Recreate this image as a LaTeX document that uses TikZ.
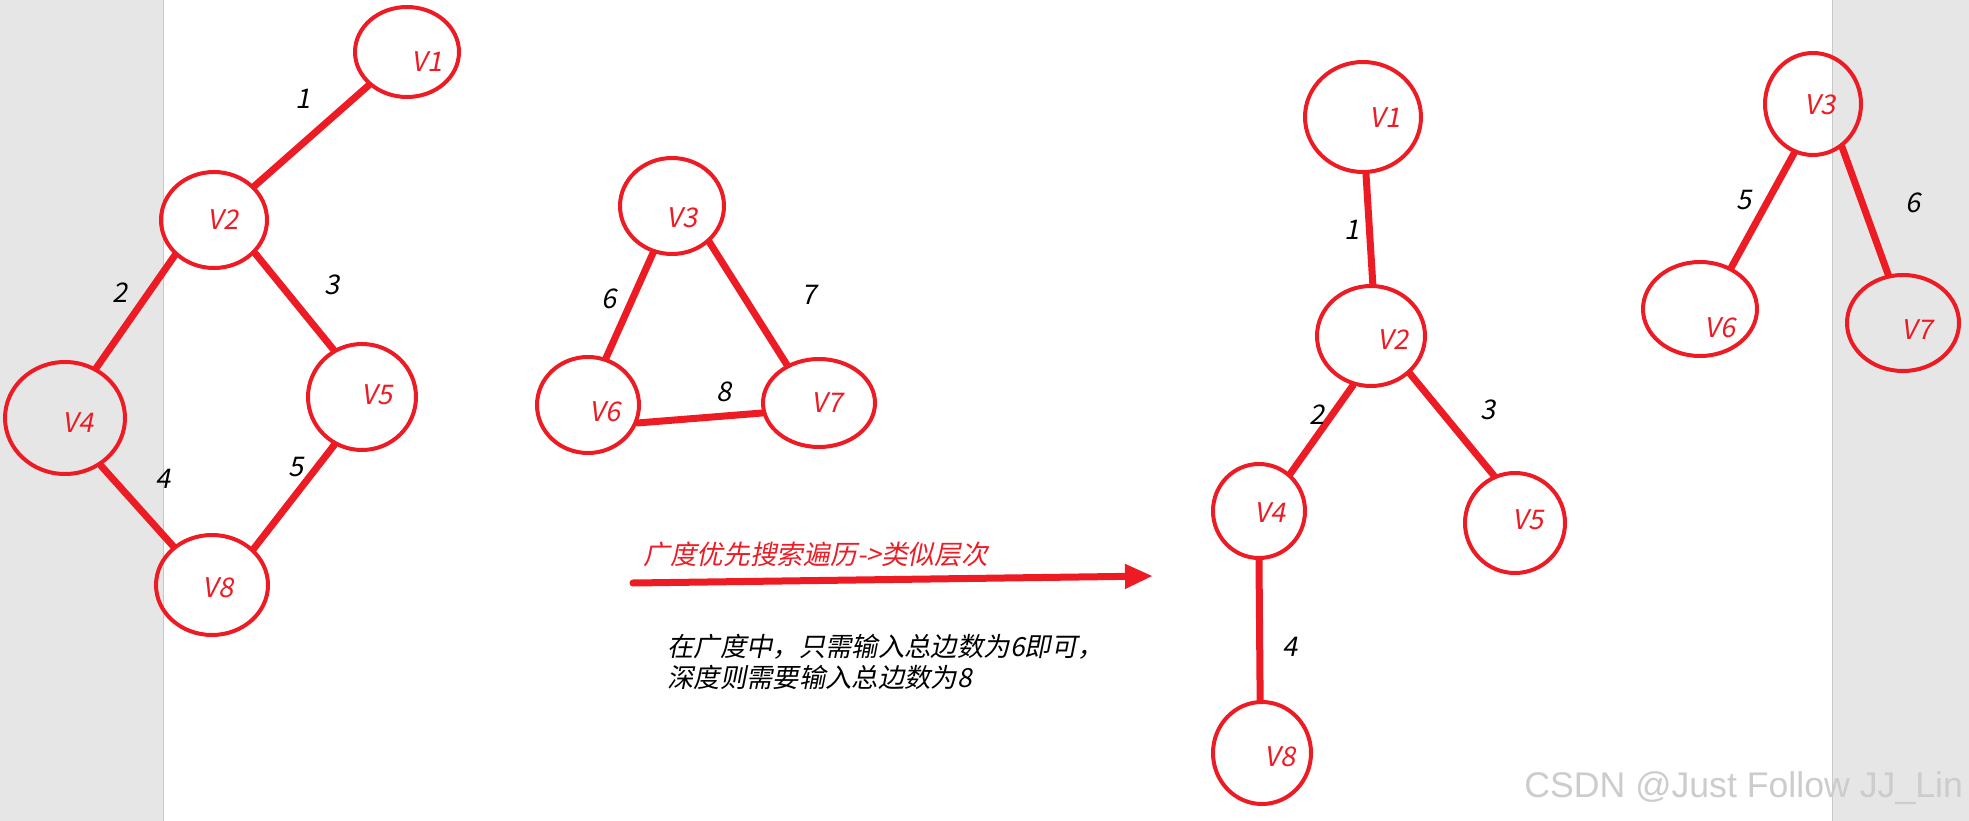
\documentclass[tikz,border=0pt]{standalone}
\usepackage{fontspec}
\usetikzlibrary{shapes.geometric,arrows.meta}
\newfontfamily\cjk[FakeSlant=0.2]{Noto Sans CJK SC}
\newfontfamily\wmfont{Liberation Sans}
\definecolor{pen}{RGB}{237,28,36}
\definecolor{panel}{RGB}{230,230,230}
\definecolor{rule}{RGB}{200,200,200}

\begin{document}
\begin{tikzpicture}[x=0.2mm,y=-0.2mm,
  vtx/.style={ellipse,draw=pen,line width=0.8mm,inner sep=0pt},
  vname/.style={text=pen,font=\cjk\fontsize{15.4}{18}\selectfont,inner sep=0pt},
  wt/.style={font=\cjk\fontsize{15.4}{18}\selectfont,inner sep=0pt},
  edge/.style={draw=pen,line width=1.4mm,line cap=round}]

  \useasboundingbox (0,0) rectangle (1969,821);
  \fill[panel] (0,0) rectangle (163,821);
  \fill[panel] (1832,0) rectangle (1969,821);
  \draw[rule,line width=0.2mm] (163,0) -- (163,821);
  \draw[rule,line width=0.2mm] (1832,0) -- (1832,821);

  % vertices: graph / index / centre / radii / text position
  \foreach \n/\i/\x/\y/\rx/\ry/\tx/\ty in {
      a/1/407/52/54/47/427/62, a/2/214/220/55/50/223/220,
      a/4/65/418/62/58/78/423, a/5/362/397/56/55/377/395,
      a/8/212/585/58/52/218/588,
      b/3/672/206/54/50/682/218, b/6/588/405/53/50/605/412,
      b/7/819/403/58/46/827/403,
      c/1/1363/117/60/57/1385/118, c/2/1371/336/56/52/1393/340,
      c/4/1259/511/48/49/1270/513, c/5/1515/523/52/52/1528/520,
      c/8/1262/753/51/53/1280/757,
      d/3/1813/104/50/53/1820/105, d/6/1700/309/59/49/1720/328,
      d/7/1903/323/58/50/1917/330}{
    \node[vtx,minimum width={(\rx-2)*0.4mm},minimum height={(\ry-2)*0.4mm}] (\n\i) at (\x,\y) {};
    \node[vname] (t\n\i) at (\tx,\ty) {V\i};
  }

  % edges
  \foreach \p/\q in {a1.221/a2.40, a2.222/a4.58, a2.-39/a5.121,
      a4.-53/a8.135, a5.240/a8.41,
      b3.248/b6.69, b3.-44/b7.130, b6.-20/b7.190,
      c1.-87/c2.88, c2.250/c4.50, c2.-44/c5.114, c4.-90/c8.92,
      d3.249/d6.53, d3.-56/d7.107}{
    \draw[edge] (\p) -- (\q);
  }

  % weights
  \foreach \n/\w/\x/\y in {a/1/303/99, a/2/120/293, a/3/332/285,
      a/4/163/479, a/5/296/467,
      b/6/609/299, b/7/809/295, b/8/724/392,
      c/1/1352/230, c/2/1317/415, c/3/1488/410, c/4/1290/647,
      d/5/1744/200, d/6/1913/203}{
    \node[wt] (w\n\w) at (\x,\y) {\w};
  }

  % traversal arrow
  \coordinate (bfs0) at (633,583);
  \coordinate (bfs1) at (1153,576);
  \draw[pen,line width=1.4mm,line cap=round,-{Triangle[length=5.6mm,width=4.6mm]}] (bfs0) -- (bfs1);
  \node[font=\cjk\fontsize{15.2}{17.6}\selectfont,text=pen,anchor=west,inner sep=0pt] (bfs) at (643,554) {广度优先搜索遍历->类似层次};
  \node[font=\cjk\fontsize{15.0}{17.6}\selectfont,anchor=west,align=left,inner sep=0pt] (note) at (667,662) {在广度中，只需输入总边数为6即可，\\深度则需要输入总边数为8};

  \node[font=\wmfont\fontsize{20.3}{23}\selectfont,text=black!20,anchor=west,inner sep=0pt] (wm) at (1524,788) {CSDN @Just Follow JJ\_Lin};
\end{tikzpicture}
\end{document}
